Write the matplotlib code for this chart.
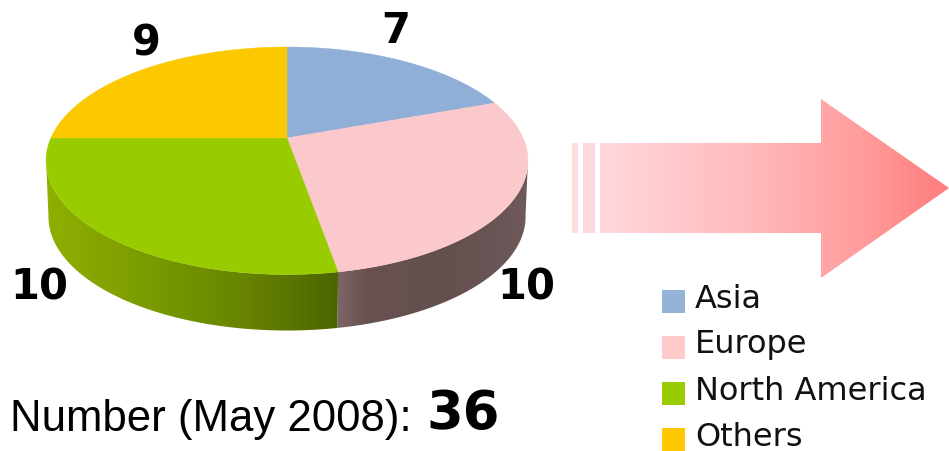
import numpy as np
import matplotlib
matplotlib.use('Agg')
import matplotlib.pyplot as plt
from matplotlib.colors import LinearSegmentedColormap
from matplotlib.patches import Polygon, Rectangle

regions = ['Asia', 'Europe', 'North America', 'Others']
counts = [7, 10, 10, 9]
colors = ['#90AFD6', '#FBC9CB', '#99CC00', '#FCC800']
legend_colors = ['#95B3D7', '#FFCACA', '#99CC00', '#FFC800']
total_label = 'Number (May 2008):'
total = 36

# pie projection, worked out from the picture in pixels
cx, cy = 287, 138
rx, ry = 236.1, 109.2
persp = 0.2
depth = 56

def project(theta):
    u = np.sin(theta)
    v = np.cos(theta)
    d = 1 + persp * v
    return cx + rx * u / d, cy - ry * v / d

def arc(a0, a1, n=200, dy=0, shrink=1.0):
    t = np.radians(np.linspace(a0, a1, n))
    x, y = project(t)
    x = cx + (x - cx) * shrink
    return np.column_stack([x, y + dy])

fig = plt.figure(figsize=(9.49, 4.51), dpi=100)
ax = fig.add_axes([0, 0, 1, 1])
ax.set_xlim(0, 949)
ax.set_ylim(451, 0)
ax.axis('off')

def gradient(stops, x0, x1, y0, y1, clip):
    cmap = LinearSegmentedColormap.from_list('g', stops)
    im = ax.imshow(np.linspace(0, 1, 512).reshape(1, -1), cmap=cmap, extent=[x0, x1, y1, y0],
                   aspect='auto', zorder=1, interpolation='bilinear')
    p = Polygon(clip, closed=True, transform=ax.transData, fc='none', ec='none')
    ax.add_patch(p)
    im.set_clip_path(p)

angles = np.cumsum([0] + counts) / sum(counts) * 360

# side wall, only the two front slices show. 101 and 259 are the outline's widest points
a_eu = angles[2]
side_green = np.vstack([arc(a_eu, 259), arc(259, a_eu, dy=depth, shrink=0.99)])
side_brown = np.vstack([arc(a_eu, 101), arc(101, a_eu, dy=depth, shrink=0.99)])
xe = arc(a_eu, a_eu, 1)[0, 0]
gradient([(0, '#8FB000'), (0.35, '#7A9B00'), (0.7, '#668200'), (1, '#4C6400')], 46, xe, 130, 340, side_green)
gradient([(0, '#7C6666'), (0.15, '#675151'), (0.6, '#655050'), (1, '#6E5A5A')], xe - 1, 530, 130, 340, side_brown)

# top of the pie
for i in range(len(counts)):
    pts = np.vstack([[cx, cy], arc(angles[i], angles[i + 1])])
    ax.add_patch(Polygon(pts, closed=True, fc=colors[i], ec=colors[i], lw=0.3, zorder=2))

# value labels
bold = dict(family='DejaVu Sans', weight='bold', color='black', ha='center', va='center', zorder=5)
label_pos = [(396, 31), (526, 288), (39, 288), (146, 44)]
for c, (lx, ly) in zip(counts, label_pos):
    ax.text(lx, ly, str(c), fontsize=30, **bold)

# big arrow
stops = [(0, '#FFD8DB'), (0.45, '#FFB8BA'), (0.75, '#FF9C9C'), (1, '#FF7C7C')]
arrow = [(600, 143), (821, 143), (821, 99), (949, 188), (821, 278), (821, 233), (600, 233)]
gradient(stops, 600, 949, 90, 290, arrow)
ax.add_patch(Rectangle((572, 143), 6, 90, fc='#FFDEE0', ec='none'))
ax.add_patch(Rectangle((583, 143), 12, 90, fc='#FFD8DB', ec='none'))

# legend
leg_y = [290, 336, 382, 428]
for name, col, y in zip(regions, legend_colors, leg_y):
    ax.add_patch(Rectangle((662, y), 23, 23, fc=col, ec='none', zorder=3))
    ax.text(695, y + 17.5, name, fontsize=23, family='DejaVu Sans', va='baseline', ha='left', color='#111111')

# total line
ax.text(10, 420, total_label, fontsize=31.5, family='Liberation Sans', va='center', ha='left', color='black')
ax.text(426, 414, str(total), fontsize=38, family='DejaVu Sans', weight='bold', va='center', ha='left', color='black')

fig.savefig('out.png', dpi=100)
